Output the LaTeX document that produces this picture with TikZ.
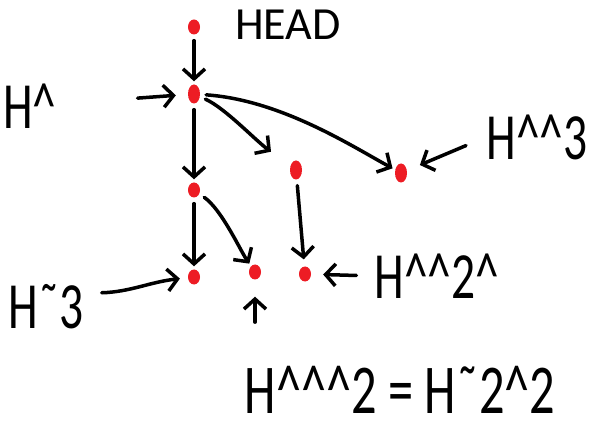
\documentclass[tikz,border=0pt]{standalone}
\usepackage{fontspec}
\usepackage{tikz}
\usetikzlibrary{arrows.meta, shapes.geometric}
\newfontfamily\headfont{Carlito}
\newfontfamily\handfont[FakeStretch=0.72]{Carlito}
\definecolor{paintred}{RGB}{237,28,36}
\newcommand{\crt}{\textasciicircum}
\newcommand{\tld}{\symbol{"02DC}}

\begin{document}
\begin{tikzpicture}[
            x=1pt, y=-1pt,
            commit/.style={ellipse, fill=paintred, inner sep=0pt, minimum width=12pt, minimum height=15pt},
            tall_commit/.style={commit, minimum height=19pt}, % the stretched dots
            parent_edge/.style={line width=3.5pt, line cap=round, line join=round, -{Straight Barb[length=10pt,width=22pt]}, shorten <=6pt, shorten >=3pt},
            ref_edge/.style={parent_edge},
            ref_label/.style={font=\handfont\fontsize{66}{66}\selectfont, inner sep=0pt},
            head_label/.style={font=\headfont\fontsize{46}{46}\selectfont, inner sep=0pt}
        ]
            \useasboundingbox (0,0) rectangle (594,430);

            % The commits
            \node[commit] (head) at (194,27) {};
            \node[tall_commit] (h1) at (194,94) {};
            \node[commit] (h2) at (194,190) {};
            \node[tall_commit] (h12) at (296,170) {};
            \node[tall_commit] (h13) at (401,173) {};
            \node[commit] (h3) at (194,277) {};
            \node[commit] (h22) at (255,272) {};
            \node[commit] (h121) at (305,274) {};

            % The names
            \node[head_label] (lbl_head) at (288,25) {HEAD};
            \node[ref_label] (lbl_h1) at (30,106) {H\crt};
            \node[ref_label] (lbl_h13) at (537,137) {H\crt\crt3};
            \node[ref_label] (lbl_h3) at (46,307) {H\tld3};
            \node[ref_label] (lbl_h121) at (437,276) {H\crt\crt2\crt};
            \node[ref_label, font=\handfont\fontsize{70}{70}\selectfont] (lbl_h22) at (400,390) {H\crt\crt\crt2 = H\tld2\crt2};

            % Parent links
            \draw[parent_edge] (head) -- (h1);
            \draw[parent_edge] (h1) -- (h2);
            \draw[parent_edge, shorten >=24pt] (h1) .. controls (225,108) and (255,140) .. (h12);
            \draw[parent_edge] (h1) .. controls (280,100) and (350,145) .. (h13);
            \draw[parent_edge] (h2) -- (h3);
            \draw[parent_edge] (h2) .. controls (222,210) and (240,250) .. (h22);
            \draw[parent_edge, shorten >=7pt] (h12) -- (h121);

            % Names pointing at commits
            \draw[ref_edge, shorten <=81pt, shorten >=12pt] (lbl_h1) -- (h1);
            \draw[ref_edge, shorten <=22pt, shorten >=14pt] (lbl_h13.west) -- (h13);
            \draw[ref_edge, shorten <=18pt, shorten >=8pt] (lbl_h3.20) .. controls (130,292) and (150,282) .. (h3);
            \draw[ref_edge, shorten <=18pt, shorten >=12pt] (lbl_h121.west) -- (h121);
            \draw[ref_edge, shorten <=44pt, shorten >=17pt] (h22 |- lbl_h22.north) -- (h22);
        \end{tikzpicture}
\end{document}
